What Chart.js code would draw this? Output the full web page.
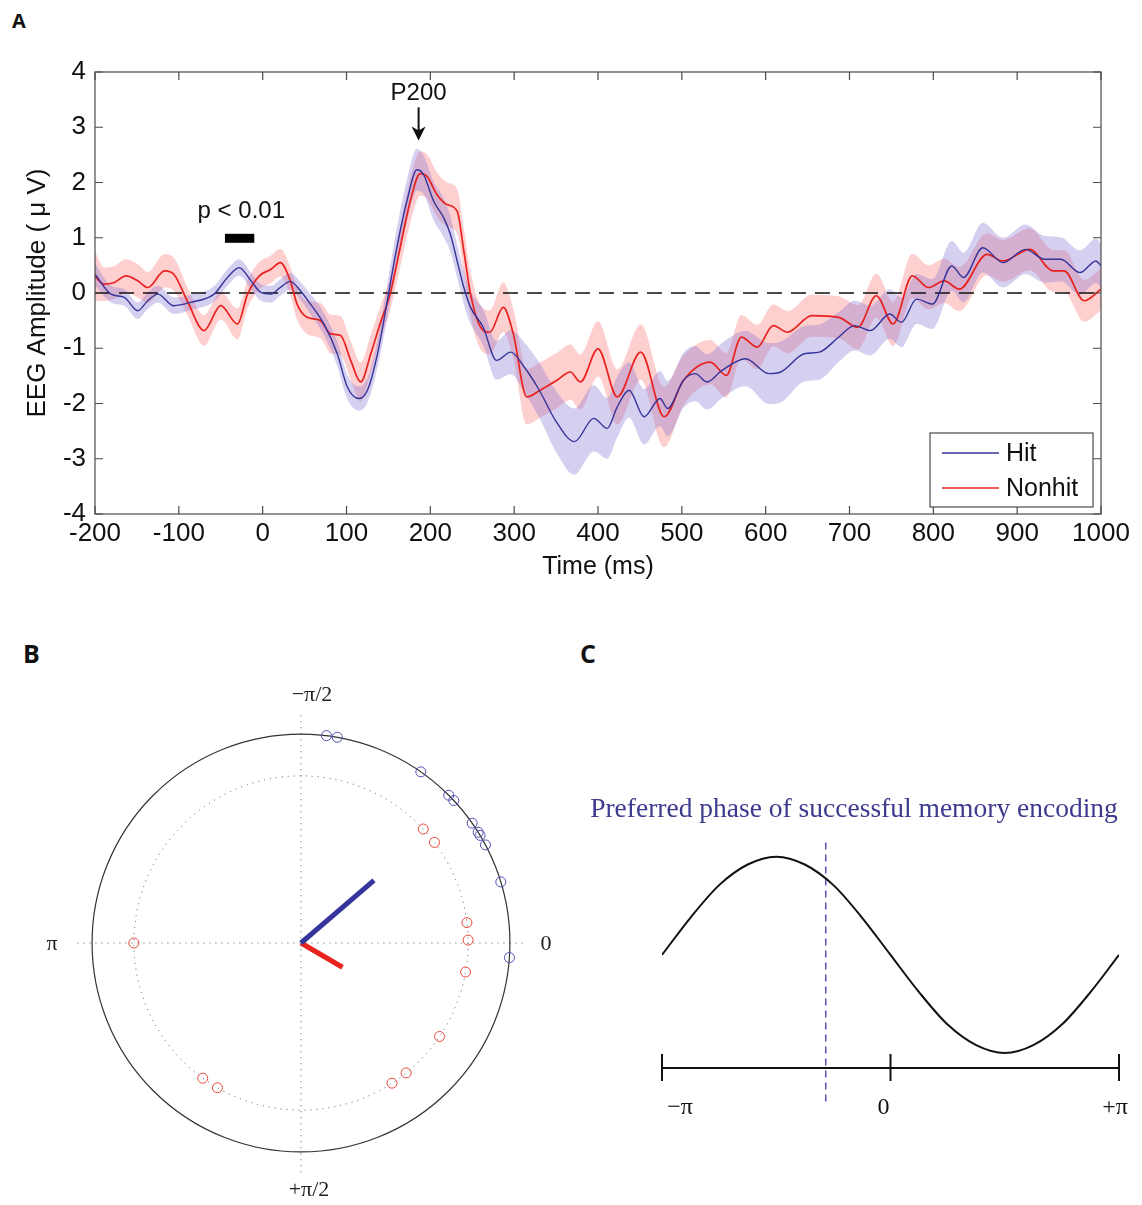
<!DOCTYPE html>
<html>
<head>
<meta charset="utf-8">
<script src="https://cdn.jsdelivr.net/npm/chart.js@4.4.1/dist/chart.umd.min.js"></script>
<style>
  body { margin: 0; background: #fff; width: 1142px; height: 1205px; position: relative; overflow: hidden; }
  canvas { position: absolute; }
  .tag { position: absolute; font-family: "Open Sans", sans-serif; font-weight: bold; line-height: 1; color: #111; }
</style>
</head>
<body>
<div class="tag" style="left:12px;top:11px;font-size:20px">A</div>
<div class="tag" style="left:23px;top:641px;font-size:25px">B</div>
<div class="tag" style="left:580px;top:641px;font-size:25px">C</div>
<canvas id="erp" width="1142" height="600" style="left:0;top:0"></canvas>
<canvas id="polar" width="571" height="585" style="left:0;top:620px"></canvas>
<canvas id="phase" width="571" height="585" style="left:571px;top:620px"></canvas>
<script>
// ---- Panel A: grand-average ERP, mean +/- SEM ----
const hitTime = [-200,-181,-165,-149,-137,-125,-106,-86,-58,-42,-28,-14,-2,10,21,33,45,57,73,89,
  101,115,125,137,148,160,172,184,192,204,216,224,232,240,248,263,279,296,312,330,
  349,372,395,411,423,437,455,474,483,502,516,530,548,576,604,618,646,664,687,706,
  725,748,762,780,799,822,836,859,883,910,933,952,975,994,1000];
const hitAmp = [0.34,-0.02,-0.08,-0.32,-0.14,-0.02,-0.23,-0.17,-0.02,0.28,0.46,0.22,0.01,-0.02,0.10,
  0.21,0.04,-0.20,-0.56,-1.10,-1.70,-1.91,-1.76,-1.10,-0.20,0.82,1.66,2.23,2.14,1.66,
  1.36,1.06,0.58,0.10,-0.26,-0.62,-1.22,-1.07,-1.34,-1.76,-2.30,-2.69,-2.27,-2.45,-2.06,
  -1.76,-2.24,-1.91,-2.09,-1.58,-1.46,-1.61,-1.40,-1.19,-1.46,-1.43,-1.10,-1.07,-0.80,-0.59,
  -0.68,-0.38,-0.53,-0.11,-0.20,0.49,0.28,0.82,0.55,0.79,0.61,0.61,0.37,0.58,0.49];
const hitSem = [0.20,0.15,0.15,0.15,0.15,0.15,0.15,0.14,0.14,0.15,0.15,0.15,0.15,0.15,0.15,
  0.15,0.16,0.18,0.20,0.22,0.22,0.22,0.22,0.25,0.30,0.35,0.38,0.38,0.35,0.35,
  0.35,0.32,0.30,0.30,0.30,0.32,0.35,0.40,0.45,0.50,0.55,0.60,0.60,0.55,0.55,
  0.50,0.50,0.50,0.50,0.50,0.50,0.50,0.50,0.50,0.55,0.55,0.50,0.50,0.45,0.45,
  0.45,0.45,0.45,0.45,0.45,0.45,0.45,0.45,0.45,0.45,0.42,0.40,0.40,0.40,0.40];

const nonhitTime = [-200,-189,-177,-163,-149,-137,-117,-106,-90,-70,-50,-30,-18,-4,10,21,33,41,53,69,
  81,93,105,117,129,140,152,164,176,188,196,208,220,232,240,248,260,271,287,299,
  315,331,351,367,379,400,423,451,479,502,534,553,571,590,609,626,655,687,710,732,
  752,775,794,813,831,864,883,915,943,956,980,1000];
const nonhitAmp = [0.30,0.16,0.19,0.31,0.22,0.10,0.40,0.34,-0.14,-0.68,-0.23,-0.56,-0.02,0.31,0.43,
  0.55,0.22,-0.20,-0.44,-0.50,-0.74,-0.77,-1.22,-1.61,-1.10,-0.56,-0.02,0.82,1.66,2.16,
  2.11,1.78,1.60,1.48,0.76,-0.02,-0.62,-0.71,-0.26,-0.74,-1.88,-1.76,-1.58,-1.43,-1.61,
  -1.01,-1.88,-1.07,-2.24,-1.58,-1.25,-1.49,-0.80,-0.98,-0.59,-0.71,-0.41,-0.44,-0.62,-0.05,
  -0.56,0.31,0.10,0.22,0.07,0.70,0.58,0.79,0.40,0.40,-0.14,0.07];
const nonhitSem = [0.45,0.30,0.30,0.30,0.30,0.28,0.30,0.30,0.25,0.28,0.25,0.28,0.25,0.25,0.25,
  0.25,0.25,0.28,0.30,0.32,0.35,0.35,0.35,0.35,0.35,0.30,0.30,0.35,0.40,0.40,
  0.40,0.40,0.40,0.40,0.40,0.40,0.40,0.40,0.45,0.45,0.50,0.50,0.50,0.50,0.50,
  0.50,0.50,0.50,0.55,0.45,0.40,0.40,0.40,0.40,0.38,0.38,0.38,0.38,0.40,0.40,
  0.40,0.40,0.40,0.40,0.40,0.38,0.38,0.38,0.38,0.38,0.38,0.38];

const timeRange = [-200, 1000];
const ampRange = [-4, 4];
const sigWindow = [-45, -10];   // p < 0.01 cluster
const p200Time = 186;

// ---- Panel B: preferred phase per subject (degrees) ----
const hitPhaseDeg = [-83, -80, -55, -45, -43, -35, -32, -31, -28, -17, 4];
const nonhitPhaseDeg = [180, -43, -37, -7, -1, 10, 34, 51, 57, 120, 126];
const meanPhaseDeg = [-40.6, 30.3];   // Hit, Nonhit
const meanLength = [0.46, 0.23];

// ---- Panel C: phase of the oscillation ----
const wavePhase = [-1, -0.875, -0.75, -0.625, -0.5, -0.375, -0.25, -0.125, 0,
  0.125, 0.25, 0.375, 0.5, 0.625, 0.75, 0.875, 1];   // x pi
const waveAmp = [0.00, 0.38, 0.71, 0.92, 1.00, 0.92, 0.71, 0.38, 0.00,
  -0.38, -0.71, -0.92, -1.00, -0.92, -0.71, -0.38, 0.00];
const preferredPhase = -0.89;
const phaseTickLabels = ['\u2212\u03c0', '0', '+\u03c0'];

const HIT = '#34349a', NONHIT = '#e8231f';
const SANS = '"Liberation Sans", Arial, sans-serif';
const SERIF = '"Liberation Serif", "Times New Roman", serif';

Chart.defaults.animation = false;
Chart.defaults.plugins.tooltip.enabled = false;
Chart.defaults.plugins.legend.display = false;

const pts = (ts, vs, sem, k = 0) => ts.map((t, i) => ({ x: t, y: vs[i] + (sem ? k * sem[i] : 0) }));

function line(ctx, x1, y1, x2, y2) { ctx.moveTo(x1, y1); ctx.lineTo(x2, y2); }

const erpDecor = {
  id: 'erpDecor',
  afterDraw(chart) {
    const { ctx, chartArea: a, scales: { x, y } } = chart;
    ctx.save();
    ctx.strokeStyle = '#4a4a4a';
    ctx.lineWidth = 1.2;
    ctx.strokeRect(a.left, a.top, a.right - a.left, a.bottom - a.top);
    ctx.beginPath();
    x.ticks.forEach(t => {
      const p = x.getPixelForValue(t.value);
      line(ctx, p, a.bottom, p, a.bottom - 8);
      line(ctx, p, a.top, p, a.top + 8);
    });
    y.ticks.forEach(t => {
      const p = y.getPixelForValue(t.value);
      line(ctx, a.left, p, a.left + 8, p);
      line(ctx, a.right, p, a.right - 8, p);
    });
    ctx.stroke();

    // annotations
    ctx.fillStyle = '#111';
    ctx.font = '24px ' + SANS;
    ctx.textAlign = 'center';
    ctx.textBaseline = 'middle';
    ctx.fillText('p < 0.01', x.getPixelForValue((sigWindow[0] + sigWindow[1]) / 2 + 2), y.getPixelForValue(1.48));
    const ax = x.getPixelForValue(p200Time);
    ctx.fillText('P200', ax, y.getPixelForValue(3.62));
    const y0 = y.getPixelForValue(3.36), y1 = y.getPixelForValue(2.76);
    ctx.strokeStyle = '#111';
    ctx.lineWidth = 2;
    ctx.beginPath(); line(ctx, ax, y0, ax, y1 - 6); ctx.stroke();
    ctx.beginPath();
    ctx.moveTo(ax, y1); ctx.lineTo(ax - 7, y1 - 14); ctx.lineTo(ax, y1 - 10); ctx.lineTo(ax + 7, y1 - 14);
    ctx.closePath(); ctx.fill();

    // legend
    const lw = 163, lh = 74, lx = a.right - 8 - lw, ly = a.bottom - 7 - lh;
    ctx.fillStyle = '#fff';
    ctx.fillRect(lx, ly, lw, lh);
    ctx.strokeStyle = '#4a4a4a'; ctx.lineWidth = 1.2;
    ctx.strokeRect(lx, ly, lw, lh);
    ctx.font = '25px ' + SANS;
    [['Hit', HIT, 20], ['Nonhit', NONHIT, 55]].forEach(([label, col, dy]) => {
      ctx.strokeStyle = col; ctx.lineWidth = 1.6;
      ctx.beginPath(); line(ctx, lx + 12, ly + dy, lx + 69, ly + dy); ctx.stroke();
      ctx.fillStyle = '#111'; ctx.textAlign = 'left';
      ctx.fillText(label, lx + 76, ly + dy + 1);
    });
    ctx.restore();
  }
};

new Chart(document.getElementById('erp'), {
  type: 'scatter',
  data: {
    datasets: [
      { label: 'Hit', data: pts(hitTime, hitAmp), showLine: true, borderColor: HIT, borderWidth: 1.4,
        pointRadius: 0, cubicInterpolationMode: 'monotone' },
      { label: 'Nonhit', data: pts(nonhitTime, nonhitAmp), showLine: true, borderColor: NONHIT, borderWidth: 1.7,
        pointRadius: 0, cubicInterpolationMode: 'monotone' },
      { label: 'baseline', data: [{ x: timeRange[0], y: 0 }, { x: timeRange[1], y: 0 }], showLine: true,
        borderColor: '#111', borderWidth: 1.6, borderDash: [15, 9], pointRadius: 0 },
      { label: 'sig', data: [{ x: sigWindow[0], y: 0.99 }, { x: sigWindow[1], y: 0.99 }], showLine: true,
        borderColor: '#000', borderWidth: 9, borderCapStyle: 'butt', pointRadius: 0 },
      { label: 'Hit +SEM', data: pts(hitTime, hitAmp, hitSem, 1), showLine: true, borderWidth: 0, pointRadius: 0,
        cubicInterpolationMode: 'monotone', fill: '+1', backgroundColor: 'rgba(118, 98, 205, 0.30)' },
      { label: 'Hit -SEM', data: pts(hitTime, hitAmp, hitSem, -1), showLine: true, borderWidth: 0, pointRadius: 0,
        cubicInterpolationMode: 'monotone' },
      { label: 'Nonhit +SEM', data: pts(nonhitTime, nonhitAmp, nonhitSem, 1), showLine: true, borderWidth: 0, pointRadius: 0,
        cubicInterpolationMode: 'monotone', fill: '+1', backgroundColor: 'rgba(250, 95, 95, 0.30)' },
      { label: 'Nonhit -SEM', data: pts(nonhitTime, nonhitAmp, nonhitSem, -1), showLine: true, borderWidth: 0, pointRadius: 0,
        cubicInterpolationMode: 'monotone' }
    ]
  },
  options: {
    responsive: false,
    layout: { padding: { left: 0, top: 72, right: 41, bottom: 0 } },
    scales: {
      x: {
        type: 'linear', min: timeRange[0], max: timeRange[1],
        grid: { display: false, drawTicks: false }, border: { display: false },
        ticks: { stepSize: 100, color: '#111', font: { size: 26, family: SANS }, padding: 4, maxRotation: 0, autoSkip: false,
          callback: v => String(v) },
        title: { display: true, text: 'Time (ms)', color: '#111', font: { size: 25, family: SANS }, padding: { top: 0, bottom: 18 } },
        afterFit: s => { s.height = 86; }
      },
      y: {
        min: ampRange[0], max: ampRange[1],
        grid: { display: false, drawTicks: false }, border: { display: false },
        ticks: { stepSize: 1, color: '#111', font: { size: 26, family: SANS }, padding: 9 },
        title: { display: true, text: 'EEG Amplitude ( \u03bc V)', color: '#111', font: { size: 26, family: SANS }, padding: { top: 22, bottom: 0 } },
        afterFit: s => { s.width = 95; }
      }
    }
  },
  plugins: [erpDecor]
});

// ---- Panel B ----
const rad = d => d * Math.PI / 180;
const ring = (degs, r) => degs.map(d => ({ x: r * Math.cos(rad(d)), y: r * Math.sin(rad(d)) }));
const vec = i => [{ x: 0, y: 0 }, { x: meanLength[i] * Math.cos(rad(meanPhaseDeg[i])), y: meanLength[i] * Math.sin(rad(meanPhaseDeg[i])) }];

const polarDecor = {
  id: 'polarDecor',
  beforeDatasetsDraw(chart) {
    const { ctx, scales: { x, y } } = chart;
    const cx = x.getPixelForValue(0), cy = y.getPixelForValue(0);
    const r = x.getPixelForValue(1) - cx;
    ctx.save();
    ctx.strokeStyle = '#555';
    ctx.lineWidth = 1;
    ctx.setLineDash([1, 5]);
    ctx.beginPath();
    line(ctx, x.getPixelForValue(-1.07), cy, x.getPixelForValue(1.08), cy);
    line(ctx, cx, y.getPixelForValue(-1.09), cx, y.getPixelForValue(1.11));
    ctx.stroke();
    ctx.beginPath(); ctx.arc(cx, cy, r * 0.8, 0, Math.PI * 2); ctx.stroke();
    ctx.setLineDash([]);
    ctx.strokeStyle = '#333';
    ctx.lineWidth = 1.2;
    ctx.beginPath(); ctx.arc(cx, cy, r, 0, Math.PI * 2); ctx.stroke();

    ctx.fillStyle = '#222';
    ctx.font = '22px ' + SERIF;
    ctx.textAlign = 'center';
    ctx.textBaseline = 'middle';
    ctx.fillText('\u2212\u03c0/2', cx + 11, cy - 248);
    ctx.fillText('+\u03c0/2', cx + 8, cy + 247);
    ctx.fillText('\u03c0', cx - 249, cy + 1);
    ctx.fillText('0', cx + 245, cy + 1);
    ctx.restore();
  }
};

new Chart(document.getElementById('polar'), {
  type: 'scatter',
  data: {
    datasets: [
      { label: 'Hit mean', data: vec(0), showLine: true, borderColor: '#35359c', borderWidth: 5, pointRadius: 0 },
      { label: 'Nonhit mean', data: vec(1), showLine: true, borderColor: '#e8221c', borderWidth: 5, pointRadius: 0 },
      { label: 'Hit', data: ring(hitPhaseDeg, 1), pointRadius: 5, pointBorderWidth: 1,
        pointBorderColor: '#5050b4', pointBackgroundColor: 'rgba(0,0,0,0)' },
      { label: 'Nonhit', data: ring(nonhitPhaseDeg, 0.8), pointRadius: 5, pointBorderWidth: 1,
        pointBorderColor: '#e8483a', pointBackgroundColor: 'rgba(0,0,0,0)' }
    ]
  },
  options: {
    responsive: false,
    layout: { padding: { left: 67, right: 36, top: 89, bottom: 28 } },
    scales: {
      x: { type: 'linear', min: -1.12, max: 1.12, display: false },
      y: { type: 'linear', min: -1.12, max: 1.12, reverse: true, display: false }
    }
  },
  plugins: [polarDecor]
});

// ---- Panel C ----
const axisLevel = -1.153;
const phaseTitle = 'Preferred phase of successful memory encoding';
const phaseDecor = {
  id: 'phaseDecor',
  afterDraw(chart) {
    const { ctx, scales: { x, y } } = chart;
    const ay = y.getPixelForValue(axisLevel);
    const ticks = [-Math.PI, 0, Math.PI];
    const shift = [18, -7, -4];
    ctx.save();
    ctx.strokeStyle = '#111';
    ctx.lineWidth = 2;
    ctx.beginPath();
    line(ctx, x.getPixelForValue(-Math.PI), ay, x.getPixelForValue(Math.PI), ay);
    ticks.forEach(t => { const p = x.getPixelForValue(t); line(ctx, p, ay - 14, p, ay + 13); });
    ctx.stroke();
    ctx.fillStyle = '#111';
    ctx.font = '24px ' + SERIF;
    ctx.textAlign = 'center';
    ctx.textBaseline = 'middle';
    ticks.forEach((t, i) => ctx.fillText(phaseTickLabels[i], x.getPixelForValue(t) + shift[i], ay + 40));

    ctx.fillStyle = '#3d3a8f';
    ctx.font = '27.5px ' + SERIF;
    ctx.fillText(phaseTitle, 283, 190);
    ctx.restore();
  }
};

new Chart(document.getElementById('phase'), {
  type: 'scatter',
  data: {
    datasets: [
      { label: 'oscillation', data: wavePhase.map((p, i) => ({ x: p * Math.PI, y: waveAmp[i] })), showLine: true,
        borderColor: '#111', borderWidth: 2, pointRadius: 0, cubicInterpolationMode: 'monotone' },
      { label: 'preferred', data: [{ x: preferredPhase, y: 1.143 }, { x: preferredPhase, y: -1.5 }], showLine: true,
        borderColor: '#3a3aa6', borderWidth: 1.3, borderDash: [7, 5], pointRadius: 0 }
    ]
  },
  options: {
    responsive: false,
    layout: { padding: { left: 91, right: 23, top: 217, bottom: 93 } },
    scales: {
      x: { type: 'linear', min: -Math.PI, max: Math.PI, display: false },
      y: { type: 'linear', min: -1.6, max: 1.2, display: false }
    }
  },
  plugins: [phaseDecor]
});
</script>
</body>
</html>
